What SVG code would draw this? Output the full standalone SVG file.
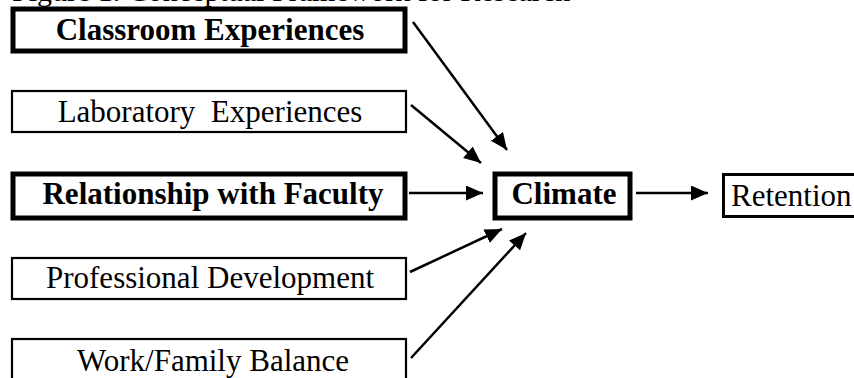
<svg xmlns="http://www.w3.org/2000/svg" width="854" height="378" viewBox="0 0 854 378">
<style>
text{font-family:"Liberation Serif","Times New Roman",serif;font-size:31px;fill:#000}
.b{font-weight:bold}
.m{text-anchor:middle}
.thick{fill:#fff;stroke:#000;stroke-width:5}
.thin{fill:#fff;stroke:#000;stroke-width:2.2}
.med{fill:#fff;stroke:#000;stroke-width:3}
.c{stroke:#000;stroke-width:2.5;fill:none;marker-end:url(#ah)}
</style>
<defs>
<marker id="ah" markerUnits="userSpaceOnUse" markerWidth="20" markerHeight="16" refX="17" refY="7.5" orient="auto">
<path d="M0,0 L17,7.5 L0,15 Z" fill="#000"/>
</marker>
</defs>
<rect width="854" height="378" fill="#fff"/>
<text x="12" y="0.5" style="font-size:30px">Figure 1. Conceptual Framework for Research</text>
<g id="classroom"><rect class="thick" x="13" y="9" width="392" height="42"/><text class="b m" x="210" y="40">Classroom Experiences</text></g>
<g id="laboratory"><rect class="thin" x="12" y="91" width="394" height="41"/><text class="m" x="210" y="122" xml:space="preserve">Laboratory  Experiences</text></g>
<g id="relationship"><rect class="thick" x="13" y="174" width="392" height="44"/><text class="b m" x="213" y="204">Relationship with Faculty</text></g>
<g id="professional"><rect class="thin" x="12" y="258" width="394" height="41"/><text class="m" x="210" y="288">Professional Development</text></g>
<g id="workfamily"><rect class="thin" x="12" y="339" width="394" height="60"/><text class="m" x="213" y="371">Work/Family Balance</text></g>
<g id="climate"><rect class="thick" x="495" y="174" width="135" height="44"/><text class="b m" x="564" y="204">Climate</text></g>
<g id="retention"><rect class="med" x="723.5" y="174.5" width="200" height="42"/><text x="731" y="206">Retention</text></g>
<g id="connectors">
<line class="c" x1="413" y1="22" x2="507" y2="150"/>
<line class="c" x1="411" y1="105" x2="481" y2="163"/>
<line class="c" x1="409" y1="193" x2="483" y2="193"/>
<line class="c" x1="410" y1="272" x2="502" y2="229"/>
<line class="c" x1="411" y1="358" x2="526" y2="233"/>
<line class="c" x1="636" y1="193" x2="708" y2="193"/>
</g>
</svg>
